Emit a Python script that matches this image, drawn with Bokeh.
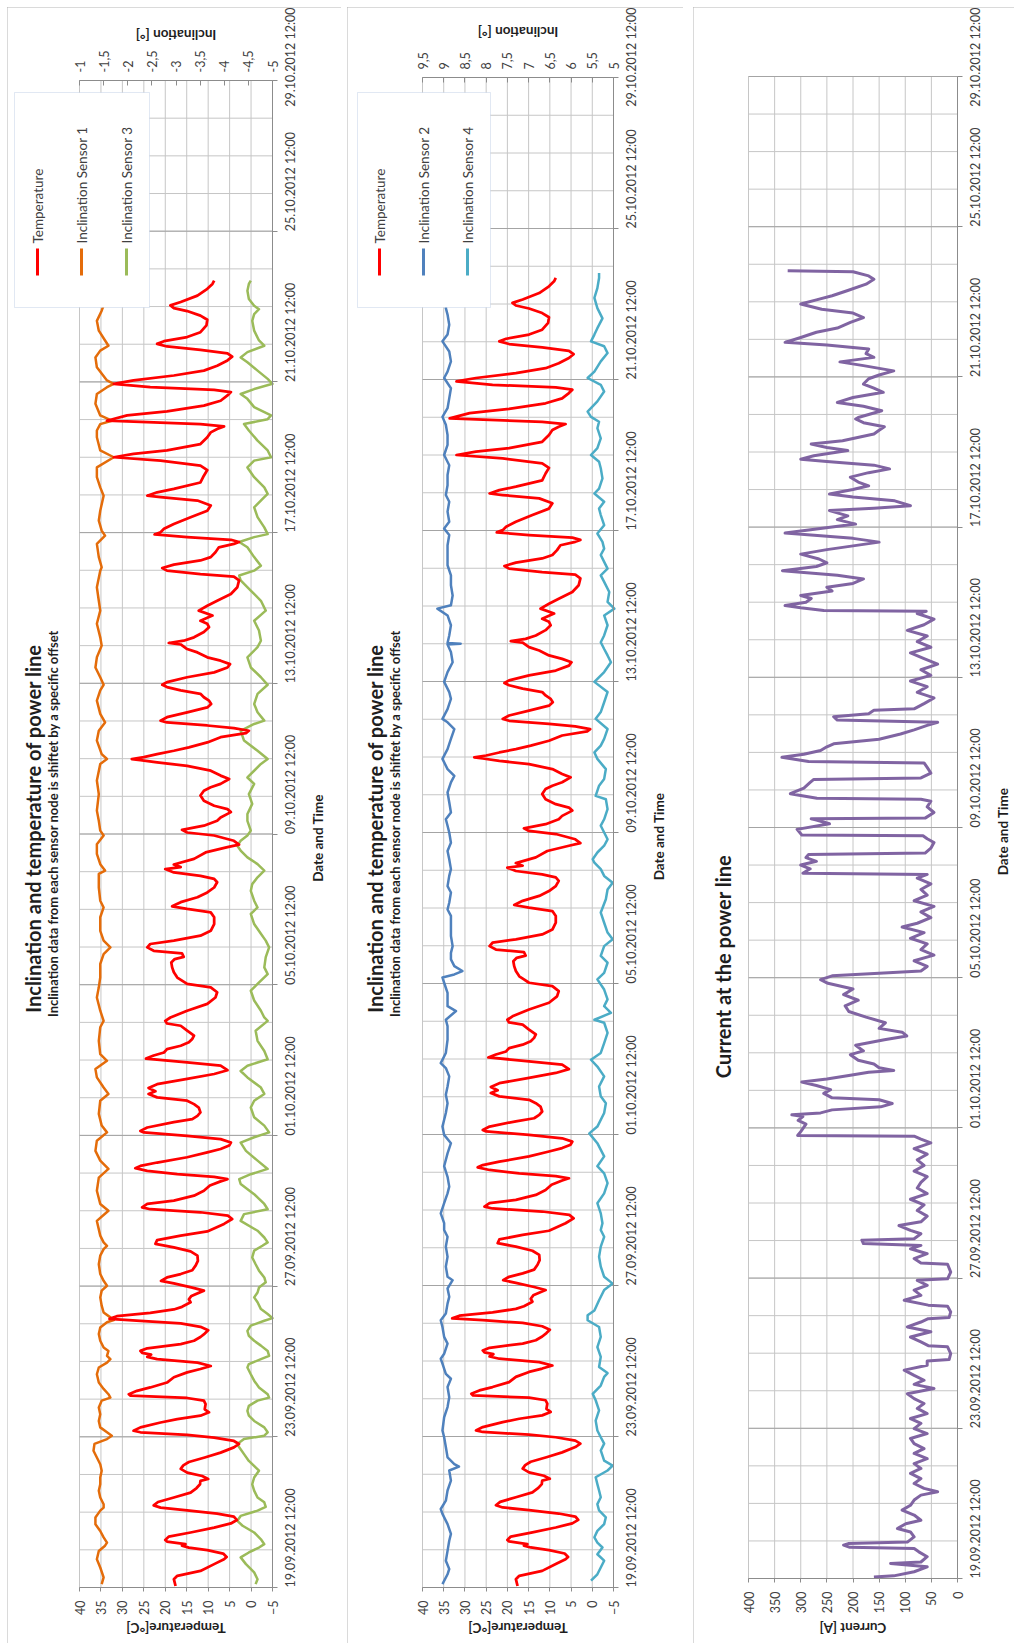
import math

from bokeh.embed import file_html
from bokeh.layouts import row
from bokeh.models import (BoxAnnotation, CustomJSTickFormatter, FixedTicker, Label, LinearAxis,
                          Range1d)
from bokeh.plotting import figure
from bokeh.resources import INLINE

# Time is stored as days since 19.09.2012 00:00.
TEMPERATURE = [
    (0.54, 17.6), (0.72, 18.0), (0.81, 17.2), (0.94, 11.8), (1.12, 8.6), (1.25, 6.3), (1.31, 5.7),
    (1.40, 6.5), (1.49, 10.2), (1.56, 14.5), (1.61, 16.1), (1.65, 15.3), (1.72, 19.6), (1.76, 20.0),
    (1.85, 19.2), (1.96, 14.1), (2.09, 8.6), (2.20, 4.7), (2.29, 3.3), (2.38, 4.0), (2.46, 7.9),
    (2.55, 14.9), (2.62, 21.1), (2.68, 22.7), (2.77, 21.7), (2.89, 18.0), (3.02, 14.1), (3.14, 12.7),
    (3.24, 11.9), (3.33, 11.8), (3.38, 10.0), (3.46, 11.4), (3.55, 14.9), (3.65, 16.4), (3.74, 15.8),
    (3.83, 14.5), (3.95, 10.8), (4.08, 7.1), (4.22, 4.0), (4.31, 2.8), (4.39, 4.0), (4.48, 8.6),
    (4.55, 14.9), (4.62, 25.8), (4.66, 27.4), (4.75, 25.8), (4.88, 21.1), (4.97, 17.2), (5.06, 11.8),
    (5.15, 9.8), (5.23, 10.8), (5.37, 10.6), (5.46, 11.0), (5.53, 14.9), (5.59, 28.1), (5.63, 28.5),
    (5.72, 26.6), (5.81, 23.5), (5.94, 19.6), (6.08, 18.0), (6.21, 14.9), (6.30, 11.8), (6.38, 9.4),
    (6.47, 12.5), (6.56, 21.9), (6.62, 24.2), (6.68, 23.3), (6.73, 25.4), (6.78, 25.8), (6.85, 24.2),
    (6.96, 16.4), (7.05, 13.3), (7.15, 11.8), (7.24, 10.8), (7.33, 10.0), (7.42, 11.8), (7.51, 16.4),
    (7.58, 25.8), (7.63, 33.0), (7.70, 31.3), (7.79, 23.5), (7.88, 18.0), (7.95, 16.1), (8.07, 14.1),
    (8.15, 14.5), (8.24, 13.9), (8.38, 11.0), (8.46, 13.7), (8.57, 18.0), (8.64, 21.0), (8.73, 19.6),
    (8.82, 16.4), (8.92, 13.7), (9.05, 12.9), (9.17, 12.4), (9.31, 12.5), (9.42, 14.1), (9.53, 18.0),
    (9.62, 22.3), (9.72, 21.9), (9.84, 16.4), (9.95, 10.2), (10.15, 6.3), (10.28, 4.4), (10.37, 5.4),
    (10.46, 11.8), (10.54, 23.5), (10.59, 25.4), (10.68, 24.2), (10.77, 18.0), (10.90, 13.3),
    (11.03, 11.0), (11.17, 9.6), (11.28, 7.1), (11.34, 5.5), (11.40, 8.6), (11.47, 17.2), (11.56, 24.2),
    (11.63, 27.0), (11.69, 25.8), (11.78, 21.9), (11.92, 14.9), (12.05, 10.2), (12.14, 7.1),
    (12.23, 5.1), (12.31, 4.7), (12.40, 7.1), (12.49, 14.9), (12.58, 25.0), (12.62, 25.8),
    (12.71, 24.2), (12.85, 18.0), (12.93, 13.7), (13.02, 12.5), (13.11, 11.8), (13.24, 12.2),
    (13.33, 13.3), (13.42, 14.9), (13.51, 21.9), (13.60, 23.9), (13.67, 22.3), (13.76, 23.9),
    (13.86, 21.9), (14.00, 14.9), (14.13, 8.6), (14.23, 5.5), (14.35, 7.1), (14.44, 14.9),
    (14.54, 24.5), (14.62, 22.7), (14.70, 20.3), (14.79, 19.6), (14.88, 16.4), (14.97, 14.5),
    (15.06, 13.7), (15.15, 13.3), (15.28, 14.9), (15.41, 16.4), (15.47, 19.6), (15.54, 20.0),
    (15.63, 18.8), (15.81, 14.9), (15.99, 10.2), (16.16, 8.3), (16.30, 7.9), (16.43, 9.4),
    (16.52, 14.9), (16.61, 16.1), (16.69, 17.2), (16.83, 18.0), (16.96, 18.4), (17.09, 18.6),
    (17.18, 17.8), (17.24, 15.7), (17.33, 16.1), (17.40, 22.7), (17.49, 24.2), (17.58, 23.5),
    (17.67, 18.0), (17.80, 11.8), (17.93, 9.4), (18.11, 8.6), (18.29, 8.6), (18.42, 9.4),
    (18.51, 14.9), (18.58, 18.4), (18.69, 16.4), (18.82, 12.5), (18.95, 10.2), (19.08, 8.6),
    (19.22, 7.9), (19.31, 8.6), (19.39, 11.8), (19.48, 18.0), (19.57, 20.0), (19.62, 16.4),
    (19.69, 18.0), (19.84, 13.3), (20.01, 10.6), (20.15, 5.5), (20.22, 2.8), (20.32, 4.0),
    (20.46, 8.6), (20.54, 14.9), (20.61, 16.1), (20.72, 11.0), (20.85, 7.9), (20.94, 7.1),
    (21.08, 4.7), (21.16, 5.5), (21.25, 8.6), (21.38, 11.0), (21.52, 11.8), (21.65, 11.0),
    (21.74, 9.4), (21.83, 7.1), (21.96, 5.1), (22.05, 7.1), (22.18, 9.4), (22.31, 14.9),
    (22.40, 21.9), (22.46, 25.8), (22.49, 27.8), (22.54, 25.0), (22.62, 21.9), (22.71, 18.0),
    (22.80, 14.5), (22.93, 10.2), (23.07, 7.1), (23.18, 1.2), (23.24, 0.5), (23.31, 4.0),
    (23.38, 10.2), (23.46, 19.6), (23.51, 21.1), (23.60, 19.6), (23.73, 14.9), (23.86, 10.2),
    (23.95, 9.3), (24.04, 9.8), (24.13, 11.0), (24.22, 11.8), (24.31, 16.4), (24.40, 19.6),
    (24.46, 20.7), (24.53, 19.6), (24.66, 14.9), (24.79, 8.6), (24.92, 5.5), (25.01, 4.9),
    (25.10, 7.1), (25.19, 10.2), (25.32, 12.5), (25.41, 14.9), (25.53, 16.4), (25.57, 19.2),
    (25.63, 15.7), (25.72, 13.3), (25.86, 11.0), (25.99, 9.8), (26.08, 10.2), (26.16, 11.8),
    (26.30, 9.0), (26.43, 12.2), (26.56, 10.2), (26.69, 7.9), (26.87, 4.7), (27.05, 3.2),
    (27.23, 2.8), (27.33, 4.0), (27.40, 11.8), (27.49, 19.6), (27.56, 20.7), (27.65, 18.0),
    (27.76, 11.8), (27.85, 9.4), (27.98, 8.3), (28.11, 7.5), (28.20, 4.0), (28.25, 2.8),
    (28.31, 4.7), (28.38, 14.9), (28.45, 22.5), (28.51, 21.1), (28.60, 20.3), (28.73, 18.0),
    (28.91, 14.1), (29.08, 10.2), (29.22, 9.4), (29.35, 12.5), (29.44, 21.1), (29.48, 24.2),
    (29.57, 21.9), (29.66, 18.0), (29.83, 11.8), (30.01, 11.0), (30.16, 10.2), (30.28, 11.8),
    (30.41, 21.1), (30.50, 32.0), (30.59, 27.4), (30.68, 19.6), (30.85, 11.8), (31.03, 10.2),
    (31.16, 9.4), (31.25, 7.9), (31.32, 6.3), (31.38, 11.8), (31.47, 33.6), (31.61, 28.9),
    (31.72, 19.6), (31.87, 11.0), (32.00, 7.1), (32.14, 5.5), (32.23, 4.7), (32.29, 8.6),
    (32.36, 23.5), (32.45, 32.0), (32.54, 27.4), (32.67, 18.0), (32.80, 11.0), (32.93, 7.9),
    (33.07, 5.5), (33.17, 4.4), (33.26, 5.5), (33.35, 11.8), (33.44, 19.6), (33.51, 21.9),
    (33.58, 20.3), (33.69, 14.9), (33.82, 11.8), (34.00, 10.4), (34.15, 10.2), (34.26, 11.8),
    (34.38, 14.9), (34.46, 18.0), (34.53, 18.8), (34.62, 16.4), (34.79, 12.5), (34.97, 10.2),
    (35.10, 9.0), (35.19, 8.6),
]

SENSOR_1 = [
    (0.59, -1.46), (0.77, -1.50), (1.03, -1.43), (1.25, -1.36), (1.47, -1.40), (1.61, -1.53),
    (1.69, -1.57), (1.83, -1.50), (2.00, -1.43), (2.18, -1.33), (2.36, -1.33), (2.54, -1.43),
    (2.62, -1.50), (2.71, -1.50), (2.89, -1.43), (3.07, -1.40), (3.24, -1.43), (3.42, -1.43),
    (3.60, -1.46), (3.77, -1.43), (3.95, -1.36), (4.13, -1.29), (4.31, -1.31), (4.44, -1.57),
    (4.53, -1.67), (4.62, -1.57), (4.75, -1.43), (4.92, -1.40), (5.10, -1.43), (5.28, -1.40),
    (5.46, -1.46), (5.54, -1.64), (5.63, -1.60), (5.77, -1.50), (5.94, -1.40), (6.16, -1.36),
    (6.34, -1.40), (6.47, -1.57), (6.56, -1.64), (6.65, -1.57), (6.78, -1.60), (6.87, -1.50),
    (7.05, -1.43), (7.23, -1.40), (7.40, -1.43), (7.54, -1.57), (7.60, -1.71), (7.67, -1.64),
    (7.80, -1.50), (7.98, -1.46), (8.20, -1.43), (8.38, -1.46), (8.51, -1.57), (8.64, -1.50),
    (8.82, -1.43), (9.08, -1.40), (9.31, -1.43), (9.48, -1.50), (9.57, -1.57), (9.66, -1.50),
    (9.84, -1.43), (10.23, -1.36), (10.50, -1.60), (10.68, -1.43), (11.03, -1.36), (11.38, -1.40),
    (11.61, -1.60), (11.83, -1.43), (12.09, -1.33), (12.36, -1.36), (12.58, -1.57), (12.76, -1.46),
    (13.07, -1.40), (13.42, -1.43), (13.60, -1.60), (13.77, -1.50), (14.04, -1.36), (14.26, -1.33),
    (14.48, -1.57), (14.66, -1.43), (15.01, -1.40), (15.37, -1.43), (15.54, -1.50), (15.81, -1.43),
    (16.16, -1.36), (16.43, -1.40), (16.69, -1.43), (17.05, -1.43), (17.31, -1.50), (17.49, -1.64),
    (17.67, -1.50), (17.93, -1.43), (18.29, -1.43), (18.55, -1.50), (18.73, -1.43), (19.08, -1.40),
    (19.44, -1.40), (19.53, -1.53), (19.70, -1.43), (19.97, -1.36), (20.23, -1.36), (20.46, -1.50),
    (20.59, -1.43), (20.85, -1.40), (21.12, -1.36), (21.56, -1.40), (21.92, -1.36), (22.36, -1.43),
    (22.49, -1.57), (22.62, -1.46), (22.98, -1.36), (23.24, -1.40), (23.46, -1.53), (23.69, -1.43),
    (24.04, -1.36), (24.31, -1.43), (24.46, -1.50), (24.66, -1.43), (24.92, -1.33), (25.19, -1.36),
    (25.50, -1.46), (25.72, -1.43), (26.08, -1.36), (26.43, -1.43), (26.69, -1.40), (27.05, -1.36),
    (27.49, -1.43), (27.58, -1.46), (27.85, -1.40), (28.20, -1.36), (28.42, -1.53), (28.55, -1.46),
    (28.82, -1.40), (29.08, -1.43), (29.48, -1.50), (29.70, -1.43), (29.97, -1.36), (30.23, -1.36),
    (30.50, -1.71), (30.68, -1.43), (31.03, -1.36), (31.21, -1.36), (31.38, -1.43), (31.47, -1.67),
    (31.61, -1.43), (31.92, -1.33), (32.18, -1.36), (32.36, -1.57), (32.45, -1.71), (32.54, -1.57),
    (32.89, -1.36), (33.15, -1.33), (33.33, -1.43), (33.46, -1.60), (33.60, -1.53), (33.86, -1.40),
    (34.12, -1.36), (34.39, -1.46), (34.53, -1.50), (34.83, -1.43), (35.19, -1.43),
]

SENSOR_3 = [
    (0.59, -4.65), (0.72, -4.69), (0.90, -4.62), (1.12, -4.45), (1.30, -4.34), (1.43, -4.51),
    (1.56, -4.72), (1.65, -4.83), (1.78, -4.76), (1.96, -4.62), (2.14, -4.38), (2.27, -4.27),
    (2.40, -4.34), (2.54, -4.69), (2.64, -4.86), (2.76, -4.83), (2.89, -4.69), (3.07, -4.62),
    (3.24, -4.58), (3.42, -4.62), (3.60, -4.72), (3.69, -4.65), (3.86, -4.51), (4.04, -4.41),
    (4.22, -4.31), (4.31, -4.27), (4.44, -4.41), (4.53, -4.83), (4.62, -4.90), (4.75, -4.83),
    (4.92, -4.62), (5.06, -4.51), (5.19, -4.48), (5.32, -4.51), (5.46, -4.69), (5.54, -4.93),
    (5.63, -4.90), (5.81, -4.72), (5.99, -4.62), (6.16, -4.55), (6.34, -4.48), (6.43, -4.51),
    (6.56, -4.76), (6.65, -4.93), (6.78, -4.90), (6.92, -4.76), (7.05, -4.62), (7.18, -4.51),
    (7.31, -4.48), (7.45, -4.55), (7.58, -4.83), (7.65, -5.00), (7.76, -4.90), (7.89, -4.76),
    (8.07, -4.69), (8.20, -4.62), (8.33, -4.69), (8.46, -4.72), (8.60, -4.86), (8.73, -4.83),
    (8.91, -4.72), (9.08, -4.65), (9.26, -4.58), (9.44, -4.62), (9.57, -4.79), (9.66, -4.90),
    (9.79, -4.83), (9.97, -4.69), (10.23, -4.34), (10.41, -4.41), (10.54, -4.90), (10.68, -4.83),
    (10.94, -4.62), (11.21, -4.34), (11.34, -4.31), (11.47, -4.55), (11.61, -4.90), (11.83, -4.69),
    (12.09, -4.45), (12.31, -4.34), (12.45, -4.62), (12.58, -4.93), (12.76, -4.83), (12.98, -4.62),
    (13.24, -4.55), (13.42, -4.62), (13.60, -4.83), (13.77, -4.76), (14.04, -4.48), (14.21, -4.34),
    (14.35, -4.48), (14.52, -4.90), (14.74, -4.83), (15.01, -4.69), (15.28, -4.65), (15.54, -4.90),
    (15.63, -4.83), (15.81, -4.76), (16.08, -4.62), (16.34, -4.55), (16.52, -4.69), (16.78, -4.90),
    (16.96, -4.83), (17.23, -4.86), (17.49, -4.93), (17.67, -4.86), (17.85, -4.76), (18.11, -4.62),
    (18.38, -4.55), (18.55, -4.69), (18.73, -4.62), (18.99, -4.55), (19.17, -4.58), (19.35, -4.69),
    (19.53, -4.83), (19.70, -4.69), (19.88, -4.48), (20.06, -4.34), (20.19, -4.27), (20.32, -4.34),
    (20.46, -4.48), (20.59, -4.55), (20.85, -4.48), (21.03, -4.48), (21.30, -4.58), (21.56, -4.51),
    (21.83, -4.62), (22.00, -4.48), (22.36, -4.76), (22.49, -4.90), (22.71, -4.69), (22.98, -4.41),
    (23.24, -4.34), (23.42, -4.62), (23.51, -4.83), (23.73, -4.69), (23.95, -4.62), (24.22, -4.69),
    (24.46, -4.90), (24.66, -4.76), (24.92, -4.55), (25.19, -4.48), (25.46, -4.69), (25.63, -4.76),
    (25.90, -4.72), (26.16, -4.62), (26.43, -4.86), (26.69, -4.76), (26.96, -4.55), (27.23, -4.34),
    (27.36, -4.31), (27.49, -4.62), (27.62, -4.76), (27.85, -4.62), (28.11, -4.48), (28.25, -4.31),
    (28.38, -4.62), (28.46, -4.90), (28.64, -4.83), (28.91, -4.69), (29.17, -4.62), (29.44, -4.83),
    (29.53, -4.90), (29.70, -4.83), (29.97, -4.62), (30.23, -4.48), (30.41, -4.62), (30.50, -4.97),
    (30.68, -4.90), (30.94, -4.69), (31.21, -4.51), (31.38, -4.41), (31.51, -4.90), (31.61, -4.97),
    (31.83, -4.62), (32.05, -4.48), (32.18, -4.34), (32.31, -4.62), (32.45, -5.00), (32.58, -4.90),
    (32.80, -4.69), (33.02, -4.48), (33.15, -4.34), (33.29, -4.48), (33.46, -4.83), (33.60, -4.72),
    (33.86, -4.62), (34.12, -4.58), (34.30, -4.62), (34.43, -4.72), (34.52, -4.62), (34.70, -4.51),
    (34.92, -4.48), (35.10, -4.51), (35.19, -4.55),
]

SENSOR_2 = [
    (0.59, 9.03), (0.85, 8.91), (0.99, 8.87), (1.21, 8.95), (1.47, 8.91), (1.74, 8.87), (1.92, 8.83),
    (2.18, 8.91), (2.45, 9.03), (2.58, 9.07), (2.80, 8.95), (3.07, 8.91), (3.33, 8.83), (3.60, 8.87),
    (3.70, 8.64), (3.77, 8.75), (3.95, 8.91), (4.22, 8.95), (4.48, 8.99), (4.66, 9.03), (5.01, 8.99),
    (5.28, 8.91), (5.54, 8.87), (5.81, 8.91), (6.03, 8.83), (6.16, 8.95), (6.43, 9.03), (6.56, 9.07),
    (6.69, 8.99), (6.96, 8.91), (7.14, 8.99), (7.40, 9.03), (7.58, 9.07), (7.76, 8.95), (8.02, 8.91),
    (8.20, 8.87), (8.42, 8.91), (8.64, 8.79), (8.73, 8.91), (9.00, 8.95), (9.26, 8.91), (9.53, 8.95),
    (9.79, 8.91), (9.97, 8.99), (10.15, 8.99), (10.41, 9.07), (10.68, 8.99), (10.94, 8.91),
    (11.12, 8.87), (11.38, 8.91), (11.66, 8.99), (12.00, 8.91), (12.27, 8.83), (12.49, 8.99),
    (12.71, 9.03), (13.07, 8.95), (13.33, 8.91), (13.55, 8.95), (13.77, 8.91), (14.04, 8.87),
    (14.26, 8.95), (14.39, 9.07), (14.66, 8.95), (15.01, 8.91), (15.37, 8.91), (15.54, 8.95),
    (15.77, 8.71), (15.90, 8.91), (16.25, 8.91), (16.52, 8.99), (16.66, 9.03), (16.74, 8.75),
    (16.83, 8.56), (16.96, 8.75), (17.14, 8.83), (17.31, 8.83), (17.49, 8.79), (17.76, 8.83),
    (18.02, 8.83), (18.29, 8.83), (18.46, 8.91), (18.64, 8.87), (18.91, 8.83), (19.08, 8.91),
    (19.35, 8.87), (19.53, 8.83), (19.79, 8.87), (20.01, 8.91), (20.23, 8.83), (20.50, 8.87),
    (20.68, 8.91), (20.85, 8.95), (21.03, 8.83), (21.30, 8.87), (21.56, 8.91), (21.83, 8.83),
    (22.00, 8.75), (22.18, 8.91), (22.45, 9.03), (22.71, 8.91), (22.98, 8.83), (23.24, 8.75),
    (23.42, 8.91), (23.51, 9.03), (23.77, 8.91), (24.04, 8.83), (24.22, 8.87), (24.49, 8.99),
    (24.75, 8.91), (25.01, 8.79), (25.28, 8.83), (25.48, 8.91), (25.50, 8.60), (25.52, 8.91),
    (25.72, 8.87), (25.99, 8.83), (26.25, 8.91), (26.43, 9.15), (26.52, 8.83), (26.78, 8.79),
    (27.05, 8.83), (27.31, 8.83), (27.58, 8.91), (27.85, 8.91), (28.11, 8.91), (28.38, 8.87),
    (28.55, 8.99), (28.73, 8.87), (29.00, 8.91), (29.26, 8.87), (29.44, 8.95), (29.70, 8.91),
    (29.97, 8.91), (30.23, 8.87), (30.50, 8.99), (30.77, 8.91), (31.03, 8.91), (31.30, 8.95),
    (31.51, 9.03), (31.74, 8.91), (32.00, 8.87), (32.27, 8.83), (32.54, 8.99), (32.71, 8.91),
    (32.98, 8.83), (33.24, 8.87), (33.51, 9.03), (33.69, 8.91), (33.95, 8.87), (34.22, 8.91),
    (34.39, 8.95), (34.66, 8.91), (35.01, 8.91), (35.19, 8.92),
]

SENSOR_4 = [
    (0.68, 5.53), (0.85, 5.38), (1.03, 5.30), (1.21, 5.22), (1.38, 5.38), (1.56, 5.26), (1.69, 5.38),
    (1.83, 5.45), (2.00, 5.38), (2.18, 5.22), (2.36, 5.18), (2.54, 5.34), (2.71, 5.38), (2.89, 5.30),
    (3.07, 5.34), (3.24, 5.38), (3.42, 5.42), (3.60, 5.14), (3.73, 5.02), (3.86, 5.22), (4.13, 5.30),
    (4.31, 5.22), (4.48, 5.30), (4.66, 5.38), (4.92, 5.42), (5.19, 5.34), (5.46, 5.42), (5.63, 5.49),
    (5.85, 5.30), (6.08, 5.22), (6.18, 5.14), (6.34, 5.34), (6.61, 5.30), (6.87, 5.38), (7.14, 5.30),
    (7.40, 5.34), (7.58, 5.61), (7.71, 5.61), (7.84, 5.45), (8.11, 5.34), (8.38, 5.22), (8.55, 5.02),
    (8.73, 5.22), (9.00, 5.30), (9.26, 5.34), (9.53, 5.30), (9.79, 5.22), (9.97, 5.30), (10.15, 5.26),
    (10.41, 5.30), (10.68, 5.38), (10.94, 5.22), (11.21, 5.14), (11.47, 5.22), (11.66, 5.38),
    (11.92, 5.22), (12.27, 5.38), (12.53, 5.57), (12.71, 5.38), (13.07, 5.22), (13.33, 5.18),
    (13.51, 5.30), (13.77, 5.34), (14.04, 5.22), (14.30, 5.38), (14.48, 5.53), (14.66, 5.30),
    (14.92, 5.22), (15.19, 5.14), (15.46, 5.22), (15.54, 5.45), (15.72, 5.06), (15.90, 5.22),
    (16.08, 5.14), (16.34, 5.22), (16.61, 5.38), (16.78, 5.22), (17.05, 5.14), (17.23, 5.30),
    (17.49, 5.22), (17.67, 5.02), (17.85, 5.14), (18.11, 5.22), (18.38, 5.30), (18.73, 5.18),
    (18.99, 5.14), (19.17, 5.02), (19.35, 5.22), (19.53, 5.30), (19.70, 5.45), (19.79, 5.49),
    (19.97, 5.38), (20.15, 5.22), (20.32, 5.14), (20.50, 5.22), (20.68, 5.30), (20.85, 5.22),
    (21.12, 5.14), (21.38, 5.18), (21.47, 5.42), (21.74, 5.34), (21.92, 5.22), (22.18, 5.18),
    (22.45, 5.38), (22.62, 5.45), (22.80, 5.30), (22.98, 5.22), (23.24, 5.14), (23.51, 5.42),
    (23.69, 5.30), (23.95, 5.22), (24.22, 5.14), (24.49, 5.45), (24.75, 5.22), (25.01, 5.06),
    (25.19, 5.14), (25.36, 5.22), (25.54, 5.30), (25.72, 5.22), (25.99, 5.14), (26.25, 5.22),
    (26.43, 4.98), (26.61, 5.14), (26.87, 5.10), (27.14, 5.22), (27.31, 5.30), (27.49, 5.14),
    (27.67, 5.22), (27.85, 5.30), (28.02, 5.22), (28.20, 5.26), (28.42, 5.38), (28.64, 5.22),
    (28.91, 5.30), (29.08, 5.34), (29.26, 5.22), (29.48, 5.45), (29.61, 5.34), (29.88, 5.26),
    (30.15, 5.30), (30.32, 5.34), (30.50, 5.53), (30.68, 5.38), (30.94, 5.30), (31.21, 5.38),
    (31.38, 5.34), (31.51, 5.53), (31.65, 5.61), (31.92, 5.38), (32.18, 5.22), (32.36, 5.30),
    (32.54, 5.61), (32.71, 5.45), (32.98, 5.30), (33.20, 5.14), (33.38, 5.22), (33.51, 5.53),
    (33.69, 5.45), (33.86, 5.38), (34.12, 5.26), (34.39, 5.38), (34.66, 5.45), (34.92, 5.38),
    (35.19, 5.34), (35.32, 5.34),
]

CURRENT = [
    (0.54, 160), (0.57, 122), (0.68, 83), (0.81, 58), (0.90, 128), (0.94, 70), (1.08, 58), (1.21, 74),
    (1.30, 83), (1.33, 206), (1.39, 218), (1.43, 209), (1.47, 96), (1.61, 83), (1.74, 90), (1.83, 115),
    (1.96, 99), (2.05, 70), (2.19, 83), (2.32, 106), (2.45, 90), (2.59, 83), (2.72, 70), (2.81, 38),
    (2.90, 64), (3.03, 83), (3.16, 70), (3.30, 90), (3.43, 70), (3.56, 83), (3.69, 58), (3.83, 83),
    (3.96, 64), (4.09, 83), (4.23, 90), (4.36, 58), (4.49, 83), (4.63, 70), (4.76, 90), (4.89, 58),
    (5.03, 77), (5.16, 64), (5.29, 83), (5.42, 96), (5.56, 45), (5.67, 83), (5.78, 64), (5.91, 83),
    (6.05, 102), (6.18, 58), (6.29, 58), (6.33, 16), (6.49, 13), (6.67, 19), (6.70, 56), (6.80, 70),
    (6.93, 90), (7.07, 51), (7.20, 96), (7.33, 70), (7.42, 56), (7.45, 16), (7.60, 13), (7.75, 19),
    (7.78, 56), (7.91, 102), (8.04, 70), (8.18, 83), (8.31, 58), (8.44, 77), (8.48, 19), (8.66, 13),
    (8.87, 19), (8.90, 70), (9.02, 83), (9.15, 58), (9.28, 90), (9.37, 70), (9.42, 180), (9.51, 183),
    (9.55, 83), (9.68, 70), (9.77, 90), (9.90, 112), (10.00, 70), (10.15, 58), (10.30, 77),
    (10.45, 64), (10.60, 90), (10.75, 58), (10.90, 77), (11.05, 70), (11.20, 58), (11.35, 83),
    (11.50, 64), (11.65, 77), (11.80, 58), (11.95, 83), (12.10, 51), (12.20, 70), (12.28, 83),
    (12.30, 306), (12.40, 300), (12.50, 295), (12.60, 290), (12.70, 305), (12.80, 296), (12.85, 317),
    (12.90, 262), (12.98, 240), (13.06, 147), (13.15, 125), (13.25, 150), (13.30, 240), (13.42, 256),
    (13.52, 243), (13.63, 270), (13.72, 298), (13.80, 250), (13.90, 205), (13.98, 170), (14.03, 122),
    (14.10, 150), (14.20, 160), (14.30, 190), (14.45, 205), (14.55, 180), (14.70, 195), (14.85, 140),
    (14.95, 97), (15.05, 106), (15.15, 150), (15.30, 138), (15.45, 175), (15.60, 208), (15.75, 215),
    (15.90, 190), (16.05, 218), (16.20, 200), (16.35, 248), (16.45, 262), (16.55, 240), (16.62, 150),
    (16.68, 70), (16.80, 58), (16.95, 83), (17.10, 45), (17.25, 70), (17.40, 58), (17.55, 90),
    (17.70, 64), (17.85, 106), (17.95, 77), (18.10, 51), (18.25, 70), (18.40, 45), (18.55, 83),
    (18.70, 58), (18.85, 70), (19.00, 51), (19.15, 77), (19.25, 58), (19.28, 296), (19.40, 282),
    (19.50, 300), (19.60, 270), (19.70, 290), (19.78, 285), (19.82, 62), (19.95, 51), (20.10, 45),
    (20.20, 58), (20.28, 66), (20.30, 298), (20.45, 307), (20.60, 245), (20.70, 270), (20.73, 280),
    (20.75, 62), (20.90, 45), (21.05, 58), (21.20, 51), (21.25, 70), (21.28, 269), (21.40, 320),
    (21.55, 294), (21.70, 282), (21.78, 275), (21.82, 70), (21.95, 51), (22.10, 58), (22.22, 64),
    (22.26, 285), (22.37, 336), (22.45, 294), (22.55, 262), (22.65, 250), (22.73, 237), (22.85, 150),
    (22.99, 109), (23.10, 83), (23.22, 58), (23.30, 38), (23.36, 230), (23.45, 237), (23.53, 170),
    (23.62, 160), (23.66, 83), (23.80, 64), (23.95, 45), (24.10, 77), (24.25, 58), (24.40, 90),
    (24.55, 51), (24.70, 70), (24.85, 38), (25.00, 64), (25.15, 90), (25.30, 51), (25.45, 77),
    (25.60, 58), (25.75, 96), (25.90, 64), (26.05, 45), (26.20, 77), (26.26, 60), (26.28, 256),
    (26.35, 300), (26.41, 330), (26.50, 290), (26.60, 280), (26.68, 300), (26.80, 240), (26.90, 250),
    (27.00, 200), (27.12, 180), (27.22, 230), (27.34, 335), (27.45, 270), (27.55, 250), (27.65, 265),
    (27.78, 300), (27.90, 250), (28.00, 200), (28.10, 150), (28.20, 200), (28.34, 330), (28.45, 270),
    (28.58, 195), (28.70, 230), (28.80, 210), (28.94, 245), (29.00, 160), (29.07, 90), (29.20, 120),
    (29.30, 200), (29.38, 245), (29.50, 200), (29.60, 170), (29.70, 190), (29.83, 205), (29.95, 170),
    (30.05, 130), (30.15, 160), (30.25, 250), (30.31, 300), (30.40, 275), (30.54, 210), (30.62, 250),
    (30.71, 280), (30.80, 220), (30.98, 160), (31.08, 150), (31.17, 140), (31.28, 180), (31.38, 195),
    (31.42, 190), (31.60, 145), (31.72, 180), (31.82, 230), (31.95, 200), (32.09, 142), (32.20, 160),
    (32.31, 180), (32.45, 170), (32.55, 150), (32.66, 122), (32.80, 180), (32.90, 225), (33.02, 160),
    (33.12, 175), (33.24, 170), (33.35, 250), (33.42, 330), (33.55, 300), (33.69, 270), (33.80, 230),
    (33.95, 205), (34.08, 180), (34.20, 200), (34.30, 260), (34.44, 300), (34.55, 270), (34.66, 240),
    (34.80, 210), (34.97, 175), (35.10, 160), (35.19, 170), (35.30, 200), (35.33, 325),
]

TEMP_TICKS = [40, 35, 30, 25, 20, 15, 10, 5, 0, -5]
INCL_13_TICKS = [-1, -1.5, -2, -2.5, -3, -3.5, -4, -4.5, -5]
INCL_24_TICKS = [9.5, 9, 8.5, 8, 7.5, 7, 6.5, 6, 5.5, 5]
CURRENT_TICKS = [400, 350, 300, 250, 200, 150, 100, 50, 0]
DATE_TICK_DAYS = [0.5, 4.5, 8.5, 12.5, 16.5, 20.5, 24.5, 28.5, 32.5, 36.5, 40.5]
DATE_TICK_LABELS = ["19.09.2012 12:00", "23.09.2012 12:00", "27.09.2012 12:00", "01.10.2012 12:00",
                    "05.10.2012 12:00", "09.10.2012 12:00", "13.10.2012 12:00", "17.10.2012 12:00",
                    "21.10.2012 12:00", "25.10.2012 12:00", "29.10.2012 12:00"]

FONT = "Lato"
RED, ORANGE, GREEN = "#ff0000", "#e46c0a", "#9bbb59"
BLUE, CYAN, PURPLE = "#4f81bd", "#4bacc6", "#8064a2"
GRID, GRID_MAJOR, AXIS = "#c6c6c6", "#a4a4a4", "#8c8c8c"
TICK_TEXT = "#404040"
TITLE_TEXT = "#1e1e1e"
TITLE_SIZE, SUBTITLE_SIZE, AXIS_TITLE_SIZE, LEGEND_SIZE = "20px", "13px", "13.5px", "13.5px"
PANEL_H = 1636
VALUE_TITLE_Y = 1620    # vertical position of the upside-down value-axis titles
DAY0, DAY1 = 0.5, 40.5


def xs(series):
    return [v for _, v in series]


def ys(series):
    return [d for d, _ in series]


def stretch_x(a, b, pa, pb, size):
    """Horizontal range over pixels 0..size with value a at pixel pa and b at pixel pb."""
    k = (b - a) / (pb - pa)
    return Range1d(a - pa * k, a + (size - pa) * k)


def stretch_y(top_px, bottom_px):
    """Vertical range over the panel height with DAY1 at top_px and DAY0 at bottom_px."""
    k = (DAY1 - DAY0) / (bottom_px - top_px)
    return Range1d(DAY0 - (PANEL_H - bottom_px) * k, DAY1 + top_px * k)


class Panel:
    """One bordered chart panel; the drawing area covers the whole panel and the axes are
    pinned to the edges of the plot rectangle (axis_left..axis_right, top..bottom)."""

    def __init__(self, width, axis_left, axis_right, top, bottom, xa, xb, margin):
        self.w, self.h = width, PANEL_H
        self.axis_left, self.axis_right, self.top, self.bottom = axis_left, axis_right, top, bottom
        self.xa, self.xb = xa, xb
        self.xr = stretch_x(xa, xb, axis_left, axis_right, width)
        self.yr = stretch_y(top, bottom)
        self.p = figure(width=width, height=PANEL_H, x_range=self.xr, y_range=self.yr,
                        x_axis_type=None, y_axis_type=None, toolbar_location=None,
                        output_backend="svg", min_border=0, outline_line_color=None, margin=margin,
                        styles={"outline": "1px solid #b4b4b4", "outline-offset": "-1px"})

    def at(self, fx, fy):
        x = self.xr.start + fx / self.w * (self.xr.end - self.xr.start)
        y = self.yr.end - fy / self.h * (self.yr.end - self.yr.start)
        return x, y

    def text(self, fx, fy, s, size, bold=False, angle=math.pi / 2, align="center",
             color=TITLE_TEXT, level="annotation"):
        x, y = self.at(fx, fy)
        self.p.add_layout(Label(x=x, y=y, text=s, angle=angle, text_align=align,
                                text_baseline="middle", text_font=FONT, text_font_size=size,
                                text_font_style="bold" if bold else "normal", text_color=color,
                                level=level))

    def decorate(self, value_ticks, value_title):
        p = self.p
        days = [DAY0 + k for k in range(41)]
        p.segment(x0=value_ticks, x1=value_ticks, y0=[DAY0] * len(value_ticks),
                  y1=[DAY1] * len(value_ticks), line_color=GRID, line_width=1, level="underlay")
        p.segment(x0=[self.xa] * len(days), x1=[self.xb] * len(days), y0=days, y1=days,
                  line_color=GRID, line_width=1, level="underlay")
        p.segment(x0=[self.xa] * len(DATE_TICK_DAYS), x1=[self.xb] * len(DATE_TICK_DAYS),
                  y0=DATE_TICK_DAYS, y1=DATE_TICK_DAYS, line_color=GRID_MAJOR, line_width=1,
                  level="underlay")

        date_axis = LinearAxis(ticker=FixedTicker(ticks=DATE_TICK_DAYS), bounds=(DAY0, DAY1),
                               fixed_location=self.xb,
                               major_label_overrides=dict(zip(DATE_TICK_DAYS, DATE_TICK_LABELS)))
        style_axis(date_axis, tick_out=5, standoff=13)
        p.add_layout(date_axis, "right")

        value_axis = LinearAxis(ticker=FixedTicker(ticks=value_ticks), fixed_location=DAY0,
                                bounds=(min(self.xa, self.xb), max(self.xa, self.xb)))
        style_axis(value_axis, tick_out=4, standoff=9)
        p.add_layout(value_axis, "below")

        mid = (self.axis_left + self.axis_right) / 2
        self.text(self.axis_right + 45, (self.top + self.bottom) / 2 + 4, "Date and Time",
                  AXIS_TITLE_SIZE, bold=True)
        self.text(mid, VALUE_TITLE_Y, value_title, AXIS_TITLE_SIZE, bold=True, angle=math.pi)


def style_axis(ax, tick_out=4, tick_in=0, standoff=8):
    ax.major_label_orientation = math.pi / 2
    ax.major_label_text_font = FONT
    ax.major_label_text_font_size = "12.5px"
    ax.major_label_text_color = TICK_TEXT
    ax.axis_line_color = AXIS
    ax.major_tick_line_color = AXIS
    ax.major_tick_out = tick_out
    ax.major_tick_in = tick_in
    ax.minor_tick_line_color = None
    ax.major_label_standoff = standoff


def legend(pn, box, items):
    l, t = pn.at(box[0], box[1])
    r, b = pn.at(box[2], box[3])
    pn.p.add_layout(BoxAnnotation(left=l, right=r, top=t, bottom=b, fill_color="white",
                                  fill_alpha=1.0, line_color="#9ab4d6", line_width=1,
                                  level="overlay"))
    for fx, color, name in items:
        sl, st = pn.at(fx - 1.5, 241)
        sr, sb = pn.at(fx + 1.5, 268)
        pn.p.add_layout(BoxAnnotation(left=sl, right=sr, top=st, bottom=sb, fill_color=color,
                                      fill_alpha=1.0, line_color=None, level="overlay"))
        pn.text(fx, 236, name, LEGEND_SIZE, align="left", color=TICK_TEXT, level="overlay")


def inclination_panel(width, axis_left, axis_right, top, incl, incl_ticks, sensors, margin,
                      box, item_x, title_x):
    pn = Panel(width, axis_left, axis_right, top, 1587 - 7, 40, -5, margin)
    p = pn.p
    p.extra_x_ranges = {"incl": stretch_x(incl[0], incl[1], axis_left, axis_right, width)}
    pn.decorate(TEMP_TICKS, "Temperature[°C]")

    incl_axis = LinearAxis(x_range_name="incl", ticker=FixedTicker(ticks=incl_ticks),
                           bounds=(min(incl), max(incl)), fixed_location=DAY1,
                           formatter=CustomJSTickFormatter(code="return String(tick).replace('.', ',')"))
    style_axis(incl_axis, tick_out=0, tick_in=5, standoff=8)
    p.add_layout(incl_axis, "above")
    pn.text((axis_left + axis_right) / 2, top - 46, "Inclination [°]", AXIS_TITLE_SIZE, bold=True,
            angle=math.pi)

    for series, color, _ in sensors:
        p.line(xs(series), ys(series), x_range_name="incl", line_color=color, line_width=2.5,
               line_join="round")
    p.line(xs(TEMPERATURE), ys(TEMPERATURE), line_color=RED, line_width=2.75, line_join="round")

    pn.text(title_x, 821, "Inclination and temperature of power line", TITLE_SIZE, bold=True)
    pn.text(title_x + 20, 816,
            "Inclination data from each sensor node is shiftet by a specific offset", SUBTITLE_SIZE,
            bold=True)

    names = ["Temperature"] + [n for _, _, n in sensors]
    colors = [RED] + [c for _, c, _ in sensors]
    legend(pn, box, list(zip(item_x, colors, names)))
    return p


p1 = inclination_panel(334, 72, 265, 73, (-1, -5), INCL_13_TICKS,
                       [(SENSOR_1, ORANGE, "Inclination Sensor 1"),
                        (SENSOR_3, GREEN, "Inclination Sensor 3")],
                       (7, 0, 0, 7), (7, 85, 142, 300), [30, 74, 119], 25)

p2 = inclination_panel(336, 75, 266, 70, (9.5, 5), INCL_24_TICKS,
                       [(SENSOR_2, BLUE, "Inclination Sensor 2"),
                        (SENSOR_4, CYAN, "Inclination Sensor 4")],
                       (7, 0, 0, 6), (10, 85, 143, 300), [32, 76, 120], 27)

# current panel
cur = Panel(321, 55, 264, 69, 1578 - 7, 400, 0, (7, 0, 0, 10))
cur.decorate(CURRENT_TICKS, "Current [A]")
cur.p.line(xs(CURRENT), ys(CURRENT), line_color=PURPLE, line_width=3, line_join="round")
cur.text(29, 959, "Current at the power line", TITLE_SIZE, bold=True)

layout = row(p1, p2, cur.p, spacing=0)
open("out.html", "w").write(file_html(layout, INLINE))
